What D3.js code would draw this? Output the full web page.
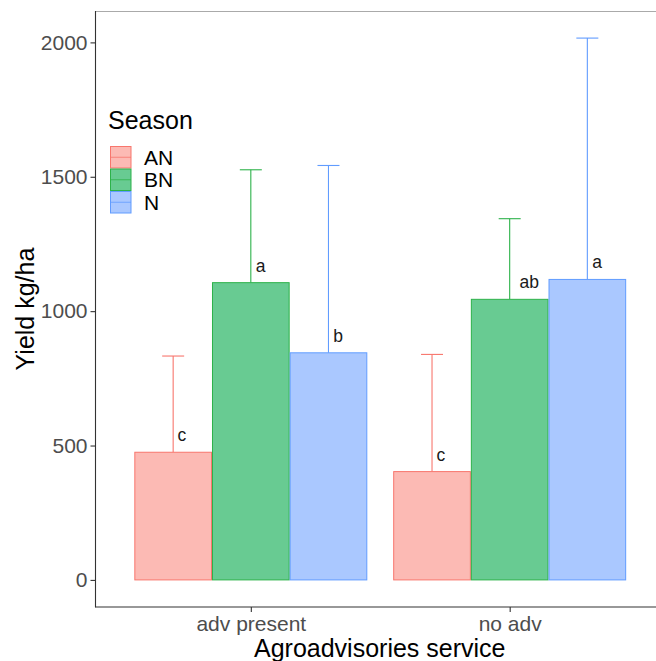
<!DOCTYPE html>
<html>
<head>
<meta charset="utf-8">
<script src="https://cdn.jsdelivr.net/npm/d3@7"></script>
<style>
  html, body { margin: 0; padding: 0; background: #fff; }
  svg { display: block; font-family: "Liberation Sans", Arial, sans-serif; }
</style>
</head>
<body>
<svg id="chart" width="656" height="661"></svg>
<script>
// ---- data ----
const services = ["adv present", "no adv"];
const seasons = ["AN", "BN", "N"];
const meanAN = [475, 403];
const meanBN = [1106, 1044];
const meanN = [845, 1118];
const upperAN = [833, 839];
const upperBN = [1526, 1344];
const upperN = [1542, 2016];
const lettersAN = ["c", "c"];
const lettersBN = ["a", "ab"];
const lettersN = ["b", "a"];
const yTicks = [0, 500, 1000, 1500, 2000];

const fills = { AN: "#FCBAB4", BN: "#68CB92", N: "#AAC8FF" };
const strokes = { AN: "#F8766D", BN: "#2DB24A", N: "#619CFF" };

const rows = [];
services.forEach((s, i) => {
  rows.push({ service: s, season: "AN", mean: meanAN[i], upper: upperAN[i], letter: lettersAN[i] });
  rows.push({ service: s, season: "BN", mean: meanBN[i], upper: upperBN[i], letter: lettersBN[i] });
  rows.push({ service: s, season: "N", mean: meanN[i], upper: upperN[i], letter: lettersN[i] });
});

const svg = d3.select("#chart");
const panel = { left: 95.5, top: 11, bottom: 607, right: 665 };

const x = d3.scalePoint().domain(services).range([panel.left, panel.right]).padding(0.6);
const groupW = x.step() * 0.9;
const xs = d3.scaleBand().domain(seasons).range([-groupW / 2, groupW / 2]).padding(0);
const y = d3.scaleLinear().domain([-100.8, 2116.8]).range([panel.bottom, panel.top]);

// panel top border
svg.append("line").attr("x1", panel.left).attr("x2", 656).attr("y1", panel.top + 0.5).attr("y2", panel.top + 0.5)
  .attr("stroke", "#aaaaaa").attr("stroke-width", 1);

// error bars
const eb = svg.append("g");
rows.forEach(d => {
  const cx = x(d.service) + xs(d.season) + xs.bandwidth() / 2;
  eb.append("line").attr("x1", cx).attr("x2", cx).attr("y1", y(d.mean)).attr("y2", y(d.upper))
    .attr("stroke", strokes[d.season]).attr("stroke-width", 1.1);
  eb.append("line").attr("x1", cx - 11).attr("x2", cx + 11).attr("y1", y(d.upper)).attr("y2", y(d.upper))
    .attr("stroke", strokes[d.season]).attr("stroke-width", 1.1);
});

// bars
svg.append("g").selectAll("rect").data(rows).join("rect")
  .attr("x", d => x(d.service) + xs(d.season) + 0.5)
  .attr("width", xs.bandwidth() - 1)
  .attr("y", d => y(d.mean))
  .attr("height", d => y(0) - y(d.mean))
  .attr("fill", d => fills[d.season])
  .attr("stroke", d => strokes[d.season])
  .attr("stroke-width", 1);

// letters
const lg = svg.append("g");
rows.forEach(d => {
  const cx = x(d.service) + xs(d.season) + xs.bandwidth() / 2;
  const t = lg.append("text").text(d.letter)
    .attr("font-size", 17.5).attr("fill", "#1a1a1a")
    .attr("y", y(d.mean) - 11);
  const w = t.node().getComputedTextLength();
  t.attr("x", cx + 0.5 * w);
});

// axes
const axisColor = "#333333";
svg.append("line").attr("x1", panel.left).attr("x2", panel.left).attr("y1", panel.top).attr("y2", panel.bottom + 0.5)
  .attr("stroke", axisColor).attr("stroke-width", 1.1);
svg.append("line").attr("x1", panel.left).attr("x2", 656).attr("y1", panel.bottom).attr("y2", panel.bottom)
  .attr("stroke", axisColor).attr("stroke-width", 1.1);

const yAxis = svg.append("g").attr("transform", `translate(${panel.left},0)`)
  .call(d3.axisLeft(y).tickValues(yTicks).tickSize(5).tickPadding(3).tickFormat(d3.format("d")));
yAxis.select(".domain").remove();
yAxis.selectAll("line").attr("stroke", axisColor).attr("stroke-width", 1.1);
yAxis.selectAll("text").attr("font-size", 21).attr("fill", "#4D4D4D").attr("font-family", "Liberation Sans, Arial, sans-serif");

const xAxis = svg.append("g").attr("transform", `translate(0,${panel.bottom})`)
  .call(d3.axisBottom(x).tickSize(5).tickPadding(4));
xAxis.select(".domain").remove();
xAxis.selectAll("line").attr("stroke", axisColor).attr("stroke-width", 1.1);
xAxis.selectAll("text").attr("font-size", 21).attr("fill", "#4D4D4D").attr("font-family", "Liberation Sans, Arial, sans-serif");

// axis titles
svg.append("text").text("Agroadvisories service")
  .attr("x", (panel.left + panel.right) / 2 - 0.5).attr("y", 657)
  .attr("text-anchor", "middle").attr("font-size", 25).attr("fill", "#000");
svg.append("text").text("Yield kg/ha")
  .attr("transform", `translate(34,${(panel.top + panel.bottom) / 2}) rotate(-90)`)
  .attr("text-anchor", "middle").attr("font-size", 25).attr("fill", "#000");

// legend
const leg = svg.append("g");
leg.append("text").text("Season").attr("x", 108).attr("y", 129).attr("font-size", 25).attr("fill", "#000");
seasons.forEach((s, i) => {
  const ky = 146 + i * 22.5;
  leg.append("rect").attr("x", 110.5).attr("y", ky + 0.5).attr("width", 20.5).attr("height", 21.5)
    .attr("fill", fills[s]).attr("stroke", strokes[s]).attr("stroke-width", 1);
  leg.append("line").attr("x1", 110.5).attr("x2", 131).attr("y1", ky + 11.25).attr("y2", ky + 11.25)
    .attr("stroke", strokes[s]).attr("stroke-width", 0.8);
  leg.append("text").text(s).attr("x", 144).attr("y", ky + 11.25).attr("dy", "0.36em")
    .attr("font-size", 21).attr("fill", "#000");
});
</script>
</body>
</html>
